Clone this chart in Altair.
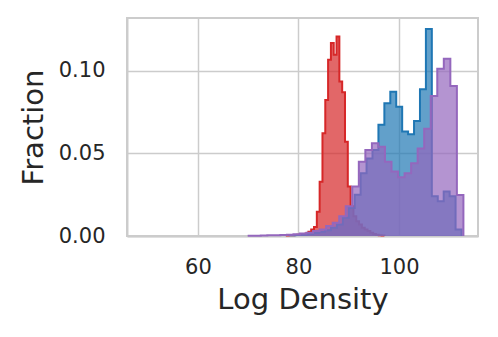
import altair as alt
import numpy as np
import pandas as pd

# Red series: bin start, bin width, fraction per bin
red_start = 77.49
red_width = 0.56
red_values = [0.0003, 0.0004, 0.0005, 0.0006, 0.0007, 0.0009, 0.0011, 0.0015, 0.0026,
              0.004, 0.0055, 0.0147, 0.0329, 0.0622, 0.0824, 0.1067, 0.1168, 0.1097,
              0.1208, 0.0935, 0.0871, 0.057, 0.0299, 0.018, 0.012, 0.009, 0.007, 0.005,
              0.004, 0.003, 0.002, 0.0012, 0.0008, 0.0005, 0.0003]

# Blue series
blue_start = 78.2
blue_width = 1.18
blue_values = [0.0004, 0.0006, 0.0008, 0.0012, 0.0018, 0.0025, 0.0035, 0.005, 0.007,
               0.011, 0.017, 0.025, 0.038, 0.047, 0.052, 0.0673, 0.0804, 0.0874,
               0.0783, 0.0632, 0.0616, 0.0697, 0.0889, 0.1253, 0.024, 0.021, 0.027,
               0.024, 0.004]

# Purple series
purple_start = 69.9
purple_width = 1.3
purple_values = [0.0002, 0.0002, 0.0003, 0.0004, 0.0005, 0.0006, 0.0008, 0.001, 0.0015,
                 0.002, 0.003, 0.004, 0.006, 0.008, 0.012, 0.018, 0.030, 0.045, 0.052,
                 0.0562, 0.054, 0.045, 0.039, 0.0356, 0.038, 0.044, 0.053, 0.065,
                 0.0848, 0.1013, 0.1074, 0.0909, 0.0248]

x_ticks = [60, 80, 100]
y_ticks = [0.0, 0.05, 0.10]

series = [
    ("red", red_start, red_width, red_values, "#d62728"),
    ("blue", blue_start, blue_width, blue_values, "#1f77b4"),
    ("purple", purple_start, purple_width, purple_values, "#9467bd"),
]

x_scale = alt.Scale(domain=[45.9, 115.7], nice=False, zero=False)
y_scale = alt.Scale(domain=[0, 0.132], nice=False)

x_axis = alt.Axis(values=x_ticks, title="Log Density", labelPadding=20, titlePadding=8,
                  grid=True)
y_axis = alt.Axis(values=y_ticks, format=".2f", title="Fraction", labelPadding=22,
                  titlePadding=10, grid=True)

layers = []
for name, start, width, vals, color in series:
    edges = np.round(start + width * np.arange(len(vals) + 1), 3)
    df = pd.DataFrame({"x": edges, "y": list(vals) + [0.0], "series": name})
    base = alt.Chart(df).encode(
        x=alt.X("x:Q", scale=x_scale, axis=x_axis),
        y=alt.Y("y:Q", scale=y_scale, axis=y_axis),
    )
    layers.append(base.mark_area(interpolate="step-after", color=color, opacity=0.7))
    layers.append(base.mark_line(interpolate="step-after", color=color, strokeWidth=2))

chart = alt.layer(*layers).properties(
    width=351,
    height=218,
    autosize=alt.AutoSizeParams(type="none"),
    padding={"left": 119, "top": 10, "right": 12, "bottom": 85},
).configure_view(
    stroke="#cccccc", strokeWidth=2
).configure_axis(
    gridColor="#cccccc", gridWidth=1.5, domainColor="#cccccc", domainWidth=2,
    ticks=False, labelFont="DejaVu Sans", titleFont="DejaVu Sans",
    labelFontSize=21, titleFontSize=29, labelColor="#262626", titleColor="#262626",
    titleFontWeight="normal"
)

chart.save("out.html", embed_options={"renderer": "svg", "actions": False})
